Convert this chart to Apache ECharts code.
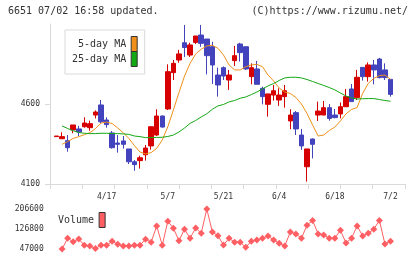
<!DOCTYPE html>
<html>
<head>
<meta charset="utf-8">
<script src="https://cdn.jsdelivr.net/npm/echarts@6/dist/echarts.min.js"></script>
<style>
  html, body { margin: 0; padding: 0; background: #fff; }
  #chart { width: 420px; height: 259px; }
</style>
</head>
<body>
<div id="chart"></div>
<script>
// trading days, 4/4 .. 7/2
const dates = [
  '4/4', '4/7', '4/8', '4/9', '4/10', '4/11', '4/14', '4/15', '4/16', '4/17',
  '4/18', '4/21', '4/22', '4/23', '4/24', '4/25', '4/28', '4/30', '5/1', '5/2',
  '5/7', '5/8', '5/9', '5/12', '5/13', '5/14', '5/15', '5/16', '5/19', '5/20',
  '5/21', '5/22', '5/23', '5/26', '5/27', '5/28', '5/29', '5/30', '6/2', '6/3',
  '6/4', '6/5', '6/6', '6/9', '6/10', '6/11', '6/12', '6/13', '6/16', '6/17',
  '6/18', '6/19', '6/20', '6/23', '6/24', '6/25', '6/26', '6/27', '6/30', '7/1',
  '7/2'
];
const tickDates = ['4/17', '5/7', '5/21', '6/4', '6/18', '7/2'];

const opens = [
  4396, 4383, 4371, 4438, 4444, 4458, 4452, 4531, 4594, 4500,
  4419, 4356, 4369, 4319, 4239, 4246, 4283, 4338, 4406, 4525,
  4569, 4796, 4875, 4983, 4906, 4985, 5031, 5006, 4958, 4781,
  4827, 4750, 4871, 4975, 4958, 4771, 4819, 4698, 4598, 4656,
  4625, 4646, 4494, 4546, 4406, 4208, 4381, 4531, 4531, 4577,
  4531, 4538, 4583, 4694, 4640, 4829, 4771, 4844, 4881, 4813,
  4754
];
const closes = [
  4400, 4396, 4327, 4469, 4425, 4481, 4477, 4550, 4489, 4471,
  4327, 4348, 4348, 4239, 4221, 4264, 4325, 4458, 4525, 4456,
  4802, 4854, 4913, 4953, 4969, 5025, 4979, 4902, 4844, 4719,
  4775, 4781, 4902, 4921, 4819, 4827, 4723, 4646, 4663, 4683,
  4656, 4683, 4531, 4444, 4338, 4319, 4348, 4556, 4577, 4510,
  4515, 4583, 4646, 4615, 4767, 4771, 4844, 4813, 4765, 4765,
  4660
];
const lows = [
  4396, 4383, 4302, 4417, 4400, 4452, 4433, 4510, 4479, 4452,
  4321, 4296, 4321, 4225, 4183, 4196, 4246, 4315, 4400, 4452,
  4562, 4750, 4858, 4894, 4894, 4975, 4958, 4785, 4725, 4646,
  4750, 4688, 4838, 4865, 4813, 4723, 4723, 4598, 4521, 4621,
  4588, 4577, 4442, 4406, 4313, 4115, 4260, 4494, 4531, 4496,
  4510, 4510, 4583, 4615, 4625, 4746, 4740, 4723, 4760, 4750,
  4646
];
const highs = [
  4400, 4423, 4406, 4469, 4463, 4517, 4496, 4560, 4625, 4517,
  4431, 4406, 4400, 4319, 4250, 4277, 4344, 4458, 4567, 4528,
  4848, 4875, 4938, 5094, 4983, 5025, 5094, 5006, 4989, 4827,
  4835, 4813, 4963, 4983, 4958, 4854, 4869, 4708, 4663, 4719,
  4698, 4719, 4567, 4556, 4444, 4319, 4385, 4615, 4619, 4600,
  4569, 4610, 4694, 4725, 4813, 4829, 4860, 4875, 4888, 4854,
  4754
];

const ma5 = [
  '-', 4348, 4365, 4385, 4396, 4408, 4421, 4446, 4481, 4487,
  4478, 4450, 4420, 4385, 4340, 4300, 4288, 4296, 4323, 4375,
  4458, 4563, 4671, 4775, 4854, 4913, 4942, 4963, 4967, 4948,
  4906, 4844, 4813, 4813, 4833, 4844, 4848, 4833, 4781, 4744,
  4700, 4675, 4666, 4641, 4600, 4541, 4469, 4400, 4406, 4434,
  4456, 4494, 4538, 4566, 4578, 4667, 4729, 4760, 4777, 4781,
  4754
];
const ma25 = [
  '-', 4463, 4447, 4433, 4422, 4417, 4415, 4415, 4417, 4417,
  4415, 4415, 4413, 4410, 4400, 4396, 4390, 4390, 4391, 4392,
  4397, 4406, 4425, 4450, 4479, 4497, 4519, 4539, 4567, 4588,
  4597, 4613, 4622, 4636, 4644, 4659, 4675, 4694, 4713, 4728,
  4747, 4763, 4767, 4767, 4763, 4753, 4741, 4728, 4716, 4703,
  4688, 4669, 4650, 4638, 4631, 4633, 4634, 4634, 4628, 4622,
  4617
];
const volumes = [
  '-', 47000, 90000, 76000, 87000, 62000, 59000, 49000, 62000, 62000,
  78000, 66000, 59000, 59000, 62000, 62000, 86000, 74000, 139000, 62000,
  158000, 130000, 80000, 126000, 90000, 131000, 110000, 206600, 115000, 100000,
  63000, 90000, 74000, 74000, 54000, 78000, 83000, 90000, 99000, 83000,
  70000, 59000, 115000, 107000, 90000, 142000, 161000, 107000, 103000, 90000,
  90000, 122000, 71000, 90000, 139000, 99000, 110000, 126000, 161000, 67000,
  78000
];
const priceTicks = [4100, 4600];
const volumeTicks = [47000, 126800, 206600];

const MONO = 'DejaVu Sans Mono';
const TEXT = '#333';
const FRAME = '#d9d9d9';
const plain = v => String(v);

const chart = echarts.init(document.getElementById('chart'));

const candles = dates.map((d, i) => [opens[i], closes[i], lows[i], highs[i]]);

chart.setOption({
  animation: false,
  backgroundColor: '#fff',
  title: [
    {
      text: '6651 07/02 16:58 updated.',
      left: 8, top: 6, padding: 0,
      textStyle: { fontFamily: MONO, fontSize: 10, fontWeight: 'normal', color: TEXT }
    },
    {
      text: '(C)https://www.rizumu.net/',
      right: 12, top: 6, padding: 0,
      textStyle: { fontFamily: MONO, fontSize: 10, fontWeight: 'normal', color: TEXT }
    }
  ],
  legend: [
    {
      data: ['5-day MA', '25-day MA'],
      orient: 'vertical',
      align: 'right',
      left: 65, top: 30,
      padding: [6, 7, 7, 7],
      itemGap: -1,
      itemWidth: 6, itemHeight: 15,
      icon: 'rect',
      itemStyle: { borderColor: '#333', borderWidth: 1 },
      borderColor: '#d9d9d9', borderWidth: 1,
      backgroundColor: '#fff',
      textStyle: { fontFamily: MONO, fontSize: 10, color: TEXT, padding: [6, 0, 0, 0] }
    },
    {
      data: ['Volume'],
      align: 'right',
      left: 58, top: 212,
      padding: 0,
      itemWidth: 6, itemHeight: 15,
      icon: 'rect',
      itemStyle: { borderColor: '#333', borderWidth: 1 },
      textStyle: { fontFamily: MONO, fontSize: 10, color: TEXT, padding: [3, 0, 0, 0] }
    }
  ],
  grid: [
    { left: 50, top: 24, width: 355, height: 160 },
    { left: 53.7, top: 24, width: 339.6, height: 160 },
    { left: 53.7, top: 209, width: 339.6, height: 40 }
  ],
  xAxis: [
    {
      gridIndex: 0, type: 'value', min: 0, max: 11, interval: 1,
      axisLine: { show: true, lineStyle: { color: FRAME } },
      axisTick: { show: true, length: 5, lineStyle: { color: FRAME } },
      axisLabel: { show: false },
      splitLine: { show: false }
    },
    {
      gridIndex: 1, type: 'category', data: dates, boundaryGap: true,
      axisLine: { show: false },
      axisTick: { show: false },
      axisLabel: {
        interval: (i, v) => tickDates.includes(v),
        fontFamily: MONO, fontSize: 8, color: TEXT, margin: 9
      },
      splitLine: { show: false }
    },
    {
      gridIndex: 2, type: 'category', data: dates, boundaryGap: true, show: false
    }
  ],
  yAxis: [
    {
      gridIndex: 0, type: 'value', min: 4100, max: 5100,
      axisLine: { show: true, lineStyle: { color: FRAME } },
      axisTick: { show: true, length: 5, customValues: priceTicks, lineStyle: { color: FRAME } },
      axisLabel: {
        customValues: priceTicks, formatter: plain,
        fontFamily: MONO, fontSize: 8, color: TEXT, margin: 10
      },
      splitLine: { show: false }
    },
    {
      gridIndex: 1, type: 'value', min: 4100, max: 5100, show: false,
      splitLine: { show: false }
    },
    {
      gridIndex: 2, type: 'value', min: 47000, max: 206600,
      axisLine: { show: false },
      axisTick: { show: false },
      axisLabel: {
        customValues: volumeTicks, formatter: plain,
        fontFamily: MONO, fontSize: 8, color: TEXT, margin: 10
      },
      splitLine: { show: false }
    }
  ],
  series: [
    {
      name: 'price',
      type: 'candlestick',
      xAxisIndex: 1, yAxisIndex: 1,
      barWidth: 5,
      data: candles,
      itemStyle: {
        color: '#d60000', color0: '#4343bd',
        borderColor: '#d60000', borderColor0: '#4343bd',
        borderWidth: 1
      }
    },
    {
      name: '5-day MA',
      type: 'line',
      xAxisIndex: 1, yAxisIndex: 1,
      data: ma5,
      showSymbol: false,
      color: '#f0901a',
      lineStyle: { width: 1 }
    },
    {
      name: '25-day MA',
      type: 'line',
      xAxisIndex: 1, yAxisIndex: 1,
      data: ma25,
      showSymbol: false,
      color: '#15a815',
      lineStyle: { width: 1 }
    },
    {
      name: 'Volume',
      type: 'line',
      xAxisIndex: 2, yAxisIndex: 2,
      data: volumes,
      symbol: 'diamond',
      symbolSize: 7,
      showAllSymbol: true,
      color: '#ff5f63',
      lineStyle: { width: 1 }
    }
  ]
});
</script>
</body>
</html>
